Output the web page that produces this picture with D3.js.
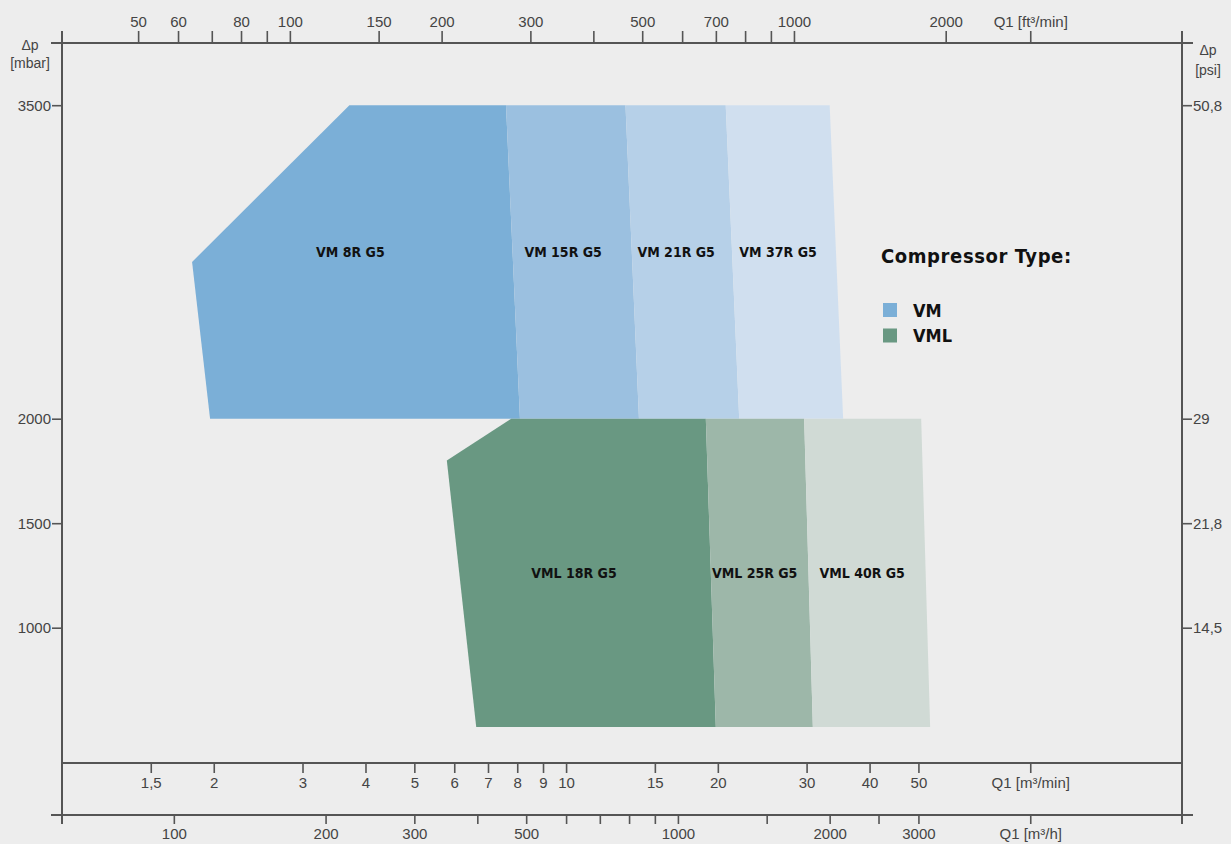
<!DOCTYPE html>
<html>
<head>
<meta charset="utf-8">
<script src="https://cdn.jsdelivr.net/npm/d3@7"></script>
<style>
  body { margin: 0; background: #ededed; }
  svg { display: block; }
  .tick text { font-family: "Liberation Sans", Arial, sans-serif; font-size: 15px; fill: #444; }
  .tick line { stroke: #555; stroke-width: 1.6; }
  .model-label { font-family: "DejaVu Sans Condensed", "DejaVu Sans", sans-serif; font-stretch: condensed; font-weight: bold; font-size: 14px; fill: #111; }
  .legend { font-family: "DejaVu Sans Condensed", "DejaVu Sans", sans-serif; font-stretch: condensed; font-weight: bold; fill: #111; }
</style>
</head>
<body>
<svg id="chart" width="1231" height="844"></svg>
<script>
// flow Q1 in m3/h, pressure dp in mbar

// VM series: 3500 mbar top edge, 2000 mbar bottom edge, one cut corner on the left
const vmModels = ["VM 8R G5", "VM 15R G5", "VM 21R G5", "VM 37R G5"];
const vmTopQ = [223, 456, 787, 1244, 2000];      // at 3500 mbar
const vmBottomQ = [118, 486, 837, 1323, 2127];   // at 2000 mbar
const vmCorner = [108.7, 2750];
const vmTop = 3500, vmBottom = 2000;
const vmLabelQ = [224, 592, 992, 1580];
const vmLabelP = 2800;
const vmColors = ["#7bafd7", "#9bc0e0", "#b6d0e8", "#d0dfef"];

// VML series
const vmlModels = ["VML 18R G5", "VML 25R G5", "VML 40R G5"];
const vmlTopQ = [467, 1136, 1780, 3038];         // at 2000 mbar
const vmlBottomQ = [398, 1189, 1852, 3165];      // at 525 mbar
const vmlCorner = [348, 1800];
const vmlTop = 2000, vmlBottom = 525;
const vmlLabelQ = [622, 1420, 2320];
const vmlLabelP = 1262;
const vmlColors = ["#699882", "#9db7a9", "#d0dad5"];

// axes
const cfmFactor = 1.699;   // m3/h per ft3/min
const cfmTicks = [50, 60, 70, 80, 90, 100, 150, 200, 300, 400, 500, 600, 700, 800, 900, 1000, 2000];
const cfmLabels = [50, 60, 80, 100, 150, 200, 300, 500, 700, 1000, 2000];
const minTicks = [1.5, 2, 3, 4, 5, 6, 7, 8, 9, 10, 15, 20, 30, 40, 50];
const hourTicks = [100, 200, 300, 400, 500, 600, 700, 800, 900, 1000, 1500, 2000, 2500, 3000];
const hourLabels = [100, 200, 300, 500, 1000, 2000, 3000];
const unitQ = 5000;        // where the unit captions sit, m3/h
const pTicks = [1000, 1500, 2000, 3500];
const psiLabels = ["14,5", "21,8", "29", "50,8"];

const svg = d3.select("#chart");
const left = 62, right = 1182;

const x = d3.scaleLog().domain([60, 10000]).range([left, right]);
const xCfm = d3.scaleLog().domain([60 / cfmFactor, 10000 / cfmFactor]).range([left, right]);
const xMin = d3.scaleLog().domain([1, 10000 / 60]).range([left, right]);
const y = d3.scaleLinear().domain([0, 4000]).range([836.7, 0.7]);

const commaFmt = d => String(d).replace(".", ",");

// areas
function outlines(topQ, bottomQ, corner, top, bottom) {
  const out = [];
  for (let i = 0; i < topQ.length - 1; i++) {
    const pts = [[topQ[i], top], [topQ[i + 1], top], [bottomQ[i + 1], bottom], [bottomQ[i], bottom]];
    if (i === 0) pts.push(corner);
    out.push(pts);
  }
  return out;
}

const line = d3.line().x(d => x(d[0])).y(d => y(d[1]));

const areas = svg.append("g").attr("class", "areas");
areas.selectAll("path.vm")
  .data(outlines(vmTopQ, vmBottomQ, vmCorner, vmTop, vmBottom))
  .enter().append("path")
    .attr("class", "vm")
    .attr("d", d => line(d) + "Z")
    .style("fill", (d, i) => vmColors[i]);

areas.selectAll("path.vml")
  .data(outlines(vmlTopQ, vmlBottomQ, vmlCorner, vmlTop, vmlBottom))
  .enter().append("path")
    .attr("class", "vml")
    .attr("d", d => line(d) + "Z")
    .style("fill", (d, i) => vmlColors[i]);

svg.selectAll("text.vm-label")
  .data(vmModels)
  .enter().append("text")
    .attr("class", "model-label")
    .attr("x", (d, i) => x(vmLabelQ[i]))
    .attr("y", y(vmLabelP))
    .attr("text-anchor", "middle")
    .attr("dominant-baseline", "central")
    .text(d => d);

svg.selectAll("text.vml-label")
  .data(vmlModels)
  .enter().append("text")
    .attr("class", "model-label")
    .attr("x", (d, i) => x(vmlLabelQ[i]))
    .attr("y", y(vmlLabelP))
    .attr("text-anchor", "middle")
    .attr("dominant-baseline", "central")
    .text(d => d);

// axis lines
const axisLines = [
  [51, 43, 1193, 43],
  [left, 763, right, 763],
  [51, 815, 1193, 815],
  [left, 31, left, 824],
  [right, 31, right, 824]
];
svg.append("g").selectAll("line")
  .data(axisLines)
  .enter().append("line")
    .attr("x1", d => d[0]).attr("y1", d => d[1])
    .attr("x2", d => d[2]).attr("y2", d => d[3])
    .style("stroke", "#555").style("stroke-width", 2);

// top: ft3/min
svg.append("g")
  .attr("transform", "translate(0,43)")
  .call(d3.axisTop(xCfm)
    .tickValues(cfmTicks.concat([unitQ / cfmFactor]))
    .tickSize(12).tickPadding(4)
    .tickFormat(d => d === unitQ / cfmFactor ? "Q1 [ft³/min]" : (cfmLabels.indexOf(d) >= 0 ? d : "")))
  .call(g => g.select(".domain").remove());

// middle: m3/min
svg.append("g")
  .attr("transform", "translate(0,763)")
  .call(d3.axisBottom(xMin)
    .tickValues(minTicks.concat([unitQ / 60]))
    .tickSize(10).tickPadding(4)
    .tickFormat(d => d === unitQ / 60 ? "Q1 [m³/min]" : commaFmt(d)))
  .call(g => g.select(".domain").remove());

// bottom: m3/h
svg.append("g")
  .attr("transform", "translate(0,815)")
  .call(d3.axisBottom(x)
    .tickValues(hourTicks.concat([unitQ]))
    .tickSize(9).tickPadding(4)
    .tickFormat(d => d === unitQ ? "Q1 [m³/h]" : (hourLabels.indexOf(d) >= 0 ? d : "")))
  .call(g => g.select(".domain").remove());

// left: mbar
svg.append("g")
  .attr("transform", "translate(" + left + ",0)")
  .call(d3.axisLeft(y).tickValues(pTicks).tickSize(10).tickPadding(1)
    .tickFormat(d3.format("d")))
  .call(g => g.select(".domain").remove());

// right: psi
svg.append("g")
  .attr("transform", "translate(" + right + ",0)")
  .call(d3.axisRight(y).tickValues(pTicks).tickSize(10).tickPadding(1)
    .tickFormat((d, i) => psiLabels[i]))
  .call(g => g.select(".domain").remove());

// axis titles
const titleStyle = g => g
  .style("font-family", "'Liberation Sans', Arial, sans-serif")
  .style("font-size", "14px")
  .style("fill", "#444")
  .attr("text-anchor", "middle")
  .attr("dominant-baseline", "central");

svg.append("text").attr("x", 30).attr("y", 45).text("Δp").call(titleStyle);
svg.append("text").attr("x", 30).attr("y", 63).text("[mbar]").call(titleStyle);
svg.append("text").attr("x", 1208).attr("y", 50).text("Δp").call(titleStyle);
svg.append("text").attr("x", 1208).attr("y", 70).text("[psi]").call(titleStyle);

// legend
const legend = svg.append("g").attr("transform", "translate(881,0)");
legend.append("text")
  .attr("class", "legend")
  .attr("x", 0).attr("y", 263)
  .style("font-size", "20px")
  .style("letter-spacing", "0.6px")
  .text("Compressor Type:");

const legendItems = ["VM", "VML"];
const legendColors = [vmColors[0], vmlColors[0]];
legend.selectAll("rect")
  .data(legendItems)
  .enter().append("rect")
    .attr("x", 2).attr("y", (d, i) => 303 + i * 25.5)
    .attr("width", 14).attr("height", 14)
    .style("fill", (d, i) => legendColors[i]);

legend.selectAll("text.item")
  .data(legendItems)
  .enter().append("text")
    .attr("class", "legend item")
    .attr("x", 32).attr("y", (d, i) => 310 + i * 25.5)
    .attr("dominant-baseline", "central")
    .style("font-size", "18px")
    .text(d => d);
</script>
</body>
</html>
